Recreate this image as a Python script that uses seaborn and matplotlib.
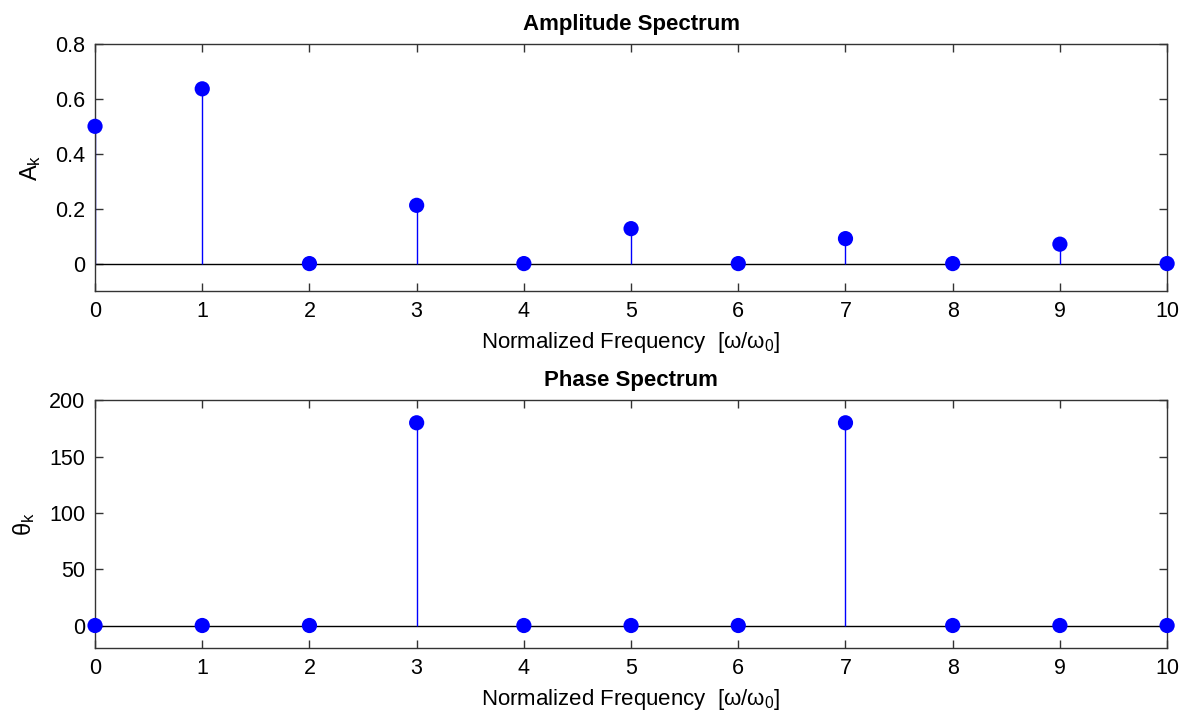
import matplotlib
matplotlib.use("Agg")
import matplotlib.pyplot as plt
import seaborn as sns
import pandas as pd

k = [0, 1, 2, 3, 4, 5, 6, 7, 8, 9, 10]
amplitude = [0.5, 0.6366, 0.0, 0.2122, 0.0, 0.1273, 0.0, 0.0909, 0.0, 0.0707, 0.0]
phase = [0, 0, 0, 180, 0, 0, 0, 180, 0, 0, 0]
amp_ticks = [0, 0.2, 0.4, 0.6, 0.8]
amp_ticklabels = ["0", "0.2", "0.4", "0.6", "0.8"]
phase_ticks = [0, 50, 100, 150, 200]

sns.set_theme(style="white")
plt.rcParams["font.family"] = ["Liberation Sans", "DejaVu Sans"]
plt.rcParams["mathtext.fontset"] = "custom"
plt.rcParams["mathtext.rm"] = "Liberation Sans"
plt.rcParams["mathtext.it"] = "Liberation Sans"
plt.rcParams["mathtext.default"] = "rm"
plt.rcParams["text.color"] = "black"
plt.rcParams["axes.labelcolor"] = "black"
plt.rcParams["xtick.labelcolor"] = "black"
plt.rcParams["ytick.labelcolor"] = "black"

fig = plt.figure(figsize=(11.82, 7.14), dpi=100)
ax1 = fig.add_axes([0.0804, 0.5924, 0.907, 0.346])
ax2 = fig.add_axes([0.0804, 0.0924, 0.907, 0.347])

df1 = pd.DataFrame({"k": k, "v": amplitude})
df2 = pd.DataFrame({"k": k, "v": phase})

xlabel = r"Normalized Frequency  [$\omega$/$\omega_0$]"

for ax, df, title, ylab, ylim, yt in [
    (ax1, df1, "Amplitude Spectrum", r"A$_k$", (-0.1, 0.8), amp_ticks),
    (ax2, df2, "Phase Spectrum", r"$\theta_k$", (-20, 200), phase_ticks),
]:
    ax.axhline(0, color="black", lw=1.0, zorder=1)
    ax.vlines(df["k"], 0, df["v"], color="#0000FF", lw=1.0, zorder=2)
    sns.scatterplot(data=df, x="k", y="v", ax=ax, color="#0000FF", s=120,
                    edgecolor="none", zorder=3, clip_on=False)
    ax.set_xlim(0, 10)
    ax.set_ylim(*ylim)
    ax.set_xticks(k)
    ax.set_yticks(yt)
    ax.set_title(title, fontsize=16, fontweight="bold", pad=10)
    ax.set_xlabel(xlabel, fontsize=16, labelpad=6)
    ax.set_ylabel(ylab, fontsize=17, labelpad=9)
    ax.tick_params(direction="in", length=6, width=1, labelsize=15.5,
                   top=True, right=True, bottom=True, left=True, color="#333333",
                   pad=7)
    for sp in ax.spines.values():
        sp.set_color("#333333")
        sp.set_linewidth(1.0)

ax1.set_yticklabels(amp_ticklabels)

fig.savefig("out.png", dpi=100, facecolor="white")
